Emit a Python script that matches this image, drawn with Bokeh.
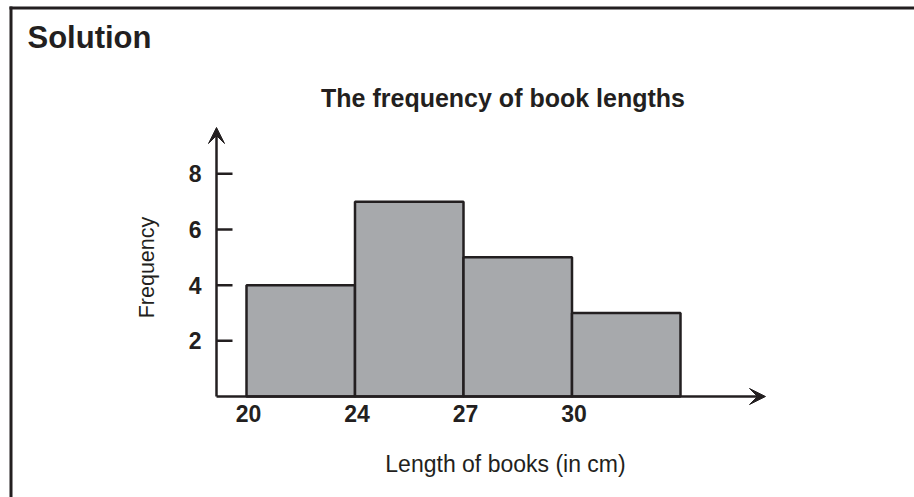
import math
from bokeh.plotting import figure
from bokeh.models import Range1d, Arrow, VeeHead, ColumnDataSource, Label
from bokeh.embed import file_html
from bokeh.resources import INLINE

# ---- data ----
bin_edge_labels = ["20", "24", "27", "30"]
frequencies = [4, 7, 5, 3]
y_tick_values = [2, 4, 6, 8]

title_text = "The frequency of book lengths"
x_label = "Length of books (in cm)"
y_label = "Frequency"
box_heading = "Solution"

INK = "#231f20"
BAR_FILL = "#a7a9ac"
FONT = "Liberation Sans"

# ---- geometry (canvas pixels) ----
W, H = 914, 497
X0_PX, X_PER = 246.0, 108.5     # canvas x of first bin edge, pixels per bin
Y0_PX, Y_PER = 396.0, 27.83     # canvas y of zero, pixels per unit


def dx(px):
    return (px - X0_PX) / X_PER


def dy(py):
    return (Y0_PX - py) / Y_PER


idx = list(range(len(frequencies)))
bars = ColumnDataSource(dict(
    left=idx,
    right=[i + 1 for i in idx],
    top=frequencies,
    bottom=[0] * len(frequencies),
))

p = figure(width=W, height=H, output_backend="svg", toolbar_location=None,
           x_range=Range1d(dx(0), dx(W)), y_range=Range1d(dy(H), dy(0)),
           x_axis_type=None, y_axis_type=None,
           min_border_left=0, min_border_right=0,
           min_border_top=0, min_border_bottom=0)
p.title = None
p.outline_line_color = None
p.grid.visible = False
p.background_fill_color = "white"
p.border_fill_color = "white"


def label(x, y, text, size, bold=False, align="center", baseline="middle",
          angle=0.0, x_offset=0):
    p.add_layout(Label(x=x, y=y, text=text, text_font=FONT,
                       text_font_size=size,
                       text_font_style="bold" if bold else "normal",
                       text_color=INK, text_align=align, text_baseline=baseline,
                       angle=angle, x_offset=x_offset))


# outer box: only the left and top edges fall inside the window (3px bands)
p.quad(left=[dx(9), dx(9)], right=[dx(12), dx(W + 20)],
       top=[dy(6), dy(6)], bottom=[dy(H + 20), dy(9)],
       fill_color=INK, line_color=None)

label(dx(27), dy(36.5), box_heading, "31px", bold=True, align="left")

# chart title
label(dx(502.5), dy(97.5), title_text, "25px", bold=True)

# bars
p.quad(left="left", right="right", top="top", bottom="bottom", source=bars,
       fill_color=BAR_FILL, line_color=INK, line_width=2.5)

# axes
AX = dx(216)          # data x of the vertical axis
p.add_layout(Arrow(x_start=AX, y_start=0, x_end=dx(765), y_end=0,
                   line_color=INK, line_width=2.5,
                   end=VeeHead(size=16, fill_color=INK, line_color=INK, line_width=1)))
p.add_layout(Arrow(x_start=AX, y_start=0, x_end=AX, y_end=dy(127),
                   line_color=INK, line_width=2.5,
                   end=VeeHead(size=16, fill_color=INK, line_color=INK, line_width=1)))

# y ticks (pointing into the plot, 2.5px thick) and labels
p.hbar(y=y_tick_values, left=AX, right=dx(232), height=2.5 / Y_PER,
       fill_color=INK, line_color=None)
for v in y_tick_values:
    label(dx(201), v, str(v), "23px", bold=True, align="right")

# x tick labels at the bin edges
for i, lab in zip(idx, bin_edge_labels):
    label(i, dy(404), lab, "23px", bold=True, baseline="top", x_offset=2)

# axis titles
label(dx(505), dy(463), x_label, "23px")
label(dx(146), dy(267), y_label, "21.5px", angle=math.pi / 2)

open("out.html", "w").write(file_html(p, INLINE))
